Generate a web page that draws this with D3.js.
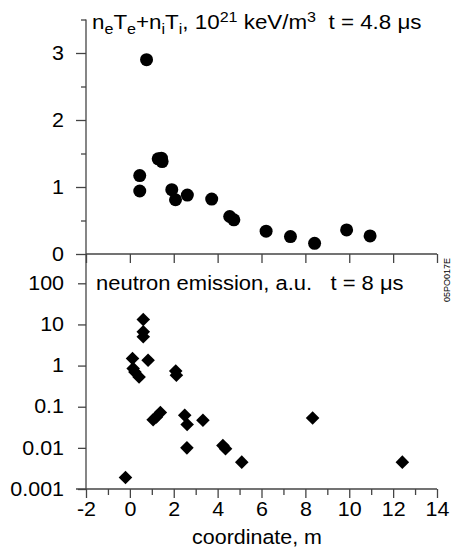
<!DOCTYPE html>
<html>
<head>
<meta charset="utf-8">
<script src="https://cdn.jsdelivr.net/npm/d3@7"></script>
<style>
  body { margin: 0; background: #fff; }
  svg text { font-family: Arial, "Liberation Sans", sans-serif; fill: #000; }
  .axis path, .axis line { stroke: #444; stroke-width: 1.3; }
</style>
</head>
<body>
<div id="chart"></div>
<script>
// top panel: pressure, 10^21 keV/m^3 (circles)
const presX = [0.76, 0.45, 0.45, 1.29, 1.44, 1.47, 1.91, 2.08, 2.62, 3.73, 4.55, 4.74, 6.21, 7.32, 8.42, 9.88, 10.95];
const presY = [2.9, 1.17, 0.94, 1.42, 1.43, 1.38, 0.96, 0.81, 0.88, 0.82, 0.56, 0.51, 0.34, 0.26, 0.16, 0.36, 0.27];

// bottom panel: neutron emission, a.u. (diamonds)
const neutX = [0.61, 0.61, 0.61, 0.12, 0.83, 0.15, 0.23, 0.42, 2.09, 2.12, 1.06, 1.21, 1.39, 2.5, 2.61, 3.33, 2.6, 4.24, 4.36, 5.1, 8.33, 12.42, -0.2];
const neutY = [13.2, 6.6, 5.0, 1.48, 1.35, 0.85, 0.7, 0.53, 0.74, 0.58, 0.048, 0.056, 0.072, 0.062, 0.037, 0.047, 0.01, 0.0114, 0.0095, 0.0045, 0.053, 0.0045, 0.0019];

const xMajor = [-2, 0, 2, 4, 6, 8, 10, 12, 14];
const xMinor = [-1, 1, 3, 5, 7, 9, 11, 13];
const topMajor = [0, 1, 2, 3];
const topMinor = [0.5, 1.5, 2.5, 3.5];
const logTicks = [0.001, 0.01, 0.1, 1, 10, 100];
const logLabels = ["0.001", "0.01", "0.1", "1", "10", "100"];

const W = 453, H = 556;
const fs = 19.5;
const sx = 1.1;   // the original lettering is a bit wider than Arial

const svg = d3.select('#chart').append('svg').attr('width', W).attr('height', H);

const x = d3.scaleLinear().domain([-2, 14]).range([86, 437]);
const yTop = d3.scaleLinear().domain([0, 3.5]).range([254, 19.5]);
const yBot = d3.scaleLog().domain([0.001, 100]).range([489, 283.3]);

// continuous left axis line through both panels
svg.append('line')
  .attr('x1', 86).attr('x2', 86).attr('y1', yTop(3.5)).attr('y2', 489)
  .attr('stroke', '#444').attr('stroke-width', 1.3);

// top panel y axis
const gTopY = svg.append('g').attr('class', 'axis').attr('transform', 'translate(86,0)')
  .call(d3.axisLeft(yTop).tickValues(topMajor).tickSize(10).tickPadding(12).tickFormat(d => String(d)));
gTopY.select('.domain').remove();
const gTopYm = svg.append('g').attr('class', 'axis').attr('transform', 'translate(86,0)')
  .call(d3.axisLeft(yTop).tickValues(topMinor).tickSize(5).tickFormat(''));
gTopYm.select('.domain').remove();

// top panel x axis (ticks hang below the baseline)
const gTopX = svg.append('g').attr('class', 'axis').attr('transform', 'translate(0,254)')
  .call(d3.axisBottom(x).tickValues(xMajor).tickSize(9).tickFormat(''));
gTopX.select('.domain').attr('d', `M${x(-2)},0H${x(14)}`);

// bottom panel y axis
const gBotY = svg.append('g').attr('class', 'axis').attr('transform', 'translate(86,0)')
  .call(d3.axisLeft(yBot).tickValues(logTicks).tickSize(8).tickPadding(14)
    .tickFormat((d, i) => logLabels[i]));
gBotY.select('.domain').remove();

// bottom panel x axis
const gBotX = svg.append('g').attr('class', 'axis').attr('transform', 'translate(0,489)')
  .call(d3.axisBottom(x).tickValues(xMajor).tickSize(9).tickPadding(4).tickFormat(d => String(d)));
gBotX.select('.domain').attr('d', `M${x(-2) - 10},0H${x(14)}`);
const gBotXm = svg.append('g').attr('class', 'axis').attr('transform', 'translate(0,489)')
  .call(d3.axisBottom(x).tickValues(xMinor).tickSize(6).tickFormat(''));
gBotXm.select('.domain').remove();

// widen tick labels about their anchor point
svg.selectAll('.axis text')
  .style('font-size', fs + 'px').attr('fill', '#000')
  .attr('transform', function () {
    const ax = +this.getAttribute('x') || 0;
    return `translate(${ax},0) scale(${sx},1) translate(${-ax},0)`;
  });

// marks
svg.append('g').selectAll('circle')
  .data(presX.map((d, i) => [d, presY[i]]))
  .join('circle')
  .attr('cx', d => x(d[0])).attr('cy', d => yTop(d[1])).attr('r', 6.5)
  .attr('fill', '#000');

svg.append('g').selectAll('path')
  .data(neutX.map((d, i) => [d, neutY[i]]))
  .join('path')
  .attr('d', d3.symbol().type(d3.symbolSquare).size(92))
  .attr('transform', d => `translate(${x(d[0])},${yBot(d[1])}) rotate(45)`)
  .attr('fill', '#000');

// stretch a text so it spans [x0, x1]
function fitWidth(sel, x0, x1, y) {
  const w = sel.node().getBBox().width;
  sel.attr('x', 0).attr('y', 0)
    .attr('transform', `translate(${x0},${y}) scale(${(x1 - x0) / w},1)`);
}

// panel titles
const ss = fs * 0.72;
const t1 = svg.append('text').style('font-size', fs + 'px');
const sub = (sel, s) => sel.append('tspan').attr('dy', 5).style('font-size', ss + 'px').text(s);
const up = (sel, s) => sel.append('tspan').attr('dy', -5).text(s);
t1.append('tspan').text('n');
sub(t1, 'e'); up(t1, 'T');
sub(t1, 'e'); up(t1, '+n');
sub(t1, 'i'); up(t1, 'T');
sub(t1, 'i'); up(t1, ', 10');
t1.append('tspan').attr('dy', -7).style('font-size', ss + 'px').text('21');
t1.append('tspan').attr('dy', 7).text(' keV/m');
t1.append('tspan').attr('dy', -7).style('font-size', ss + 'px').text('3');
t1.append('tspan').attr('dy', 7).text('\u00a0 t = 4.8 \u03bcs');
fitWidth(t1, 92, 422, 29);

const t2 = svg.append('text').attr('dy', '0.35em').style('font-size', fs + 'px')
  .text('neutron emission, a.u.\u00a0\u00a0 t = 8 \u03bcs');
fitWidth(t2, 96, 404, yBot(100));

// x axis title
svg.append('text').attr('dy', '0.35em')
  .attr('text-anchor', 'middle').style('font-size', fs + 'px')
  .attr('transform', `translate(257,537) scale(${sx},1)`)
  .text('coordinate, m');

// figure code on the right edge
svg.append('text').attr('transform', 'translate(450,280) rotate(-90)')
  .attr('text-anchor', 'middle').style('font-size', '9px')
  .text('05PO017E');
</script>
</body>
</html>
